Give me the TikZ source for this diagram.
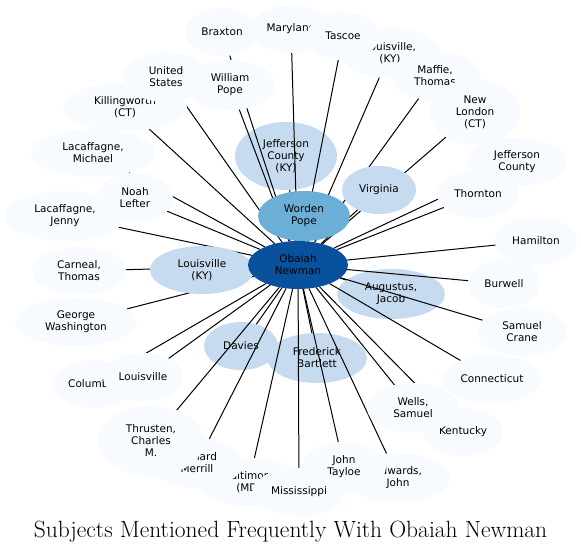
\documentclass[tikz,border=0pt]{standalone}
\usepackage{fontspec}
\newfontfamily\dv{DejaVu Sans}
\usetikzlibrary{shapes.geometric}
\definecolor{lightfill}{HTML}{F7FBFF}
\definecolor{midfill}{HTML}{C6DBEF}
\definecolor{wpfill}{HTML}{6BAED6}
\definecolor{obfill}{HTML}{08519C}
\pgfdeclarelayer{under}
\pgfdeclarelayer{edges}
\pgfsetlayers{under,edges,main}
\tikzset{
  nd/.style={ellipse, inner sep=0pt, outer sep=0pt, align=center, draw=none,
    font=\dv\fontsize{10.5}{12}\selectfont},
  rr/.style 2 args={minimum width={2*#1pt}, minimum height={2*#2pt}},
  lightnode/.style={nd, fill=lightfill},
  midnode/.style={nd, fill=midfill},
  wpnode/.style={nd, fill=wpfill},
  obnode/.style={nd, fill=obfill},
  edge/.style={draw=black, line width=1pt},
}
\begin{document}
\begin{tikzpicture}[x=1pt,y=-1pt]
\useasboundingbox (0,0) rectangle (581,553);
\begin{pgfonlayer}{under}
\node[midnode, rr={51}{34}] (jcky) at (286,156) {Jefferson\\County\\(KY)};
\node[midnode, rr={54}{25}] (augu) at (391,294) {Augustus,\\Jacob};
\node[midnode, rr={37}{24}] (davi) at (241,346) {Davies};
\node[midnode, rr={50}{25}] (fred) at (317,358) {Frederick\\Bartlett};
\end{pgfonlayer}
\node[lightnode, rr={36}{24}] (brax) at (222,32) {Braxton};
\node[lightnode, rr={40}{24}] (mary) at (291,29) {Maryland};
\node[lightnode, rr={50}{25}] (lky2) at (390,53) {Louisville,\\(KY)};
\node[lightnode, rr={36}{24}] (tasc) at (343,36) {Tascoe};
\node[lightnode, rr={45}{24}] (maff) at (435,76) {Maffie,\\Thomas};
\node[lightnode, rr={45}{33}] (nlon) at (475,112) {New\\London\\(CT)};
\node[lightnode, rr={50}{24}] (jefc) at (517,162) {Jefferson\\County};
\node[lightnode, rr={41}{24}] (thor) at (478,194) {Thornton};
\node[lightnode, rr={41}{24}] (hami) at (536,241) {Hamilton};
\node[lightnode, rr={36}{24}] (burw) at (504,284) {Burwell};
\node[lightnode, rr={45}{24}] (scra) at (522,332) {Samuel\\Crane};
\node[lightnode, rr={49}{24}] (conn) at (492,379) {Connecticut};
\node[lightnode, rr={40}{24}] (kent) at (463,432) {Kentucky};
\node[lightnode, rr={46}{25}] (well) at (413,408) {Wells,\\Samuel};
\node[lightnode, rr={52}{25}] (edwa) at (398,478) {Edwards,\\John};
\node[lightnode, rr={42}{25}] (tayl) at (344,467) {John\\Tayloe};
\node[lightnode, rr={50}{24}] (balt) at (249,482) {Baltimore\\(MD)};
\node[lightnode, rr={47}{24}] (miss) at (299,492) {Mississippi};
\node[lightnode, rr={46}{25}] (rich) at (197,463) {Richard\\Merrill};
\node[lightnode, rr={53}{35}] (thru) at (151,441) {Thrusten,\\Charles\\M.};
\node[lightnode, rr={41}{24}] (colu) at (93,384) {Columbia};
\node[lightnode, rr={40}{24}] (lou) at (143,377) {Louisville};
\node[lightnode, rr={61}{24}] (geow) at (76,322) {George\\Washington};
\node[lightnode, rr={47}{24}] (carn) at (79,271) {Carneal,\\Thomas};
\node[lightnode, rr={60}{25}] (jenn) at (65,216) {Lacaffagne,\\Jenny};
\node[lightnode, rr={38}{25}] (noah) at (135,198) {Noah\\Lefter};
\node[lightnode, rr={62}{24}] (mich) at (93,153) {Lacaffagne,\\Michael};
\node[lightnode, rr={62}{24}] (kill) at (125,107) {Killingworth\\(CT)};
\node[lightnode, rr={43}{25}] (unit) at (166,77) {United\\States};
\node[lightnode, rr={45}{25}] (wpop) at (230,85) {William\\Pope};
\node[midnode, rr={37}{24}] (virg) at (379,190) {Virginia};
\node[midnode, rr={52}{24}] (lkyc) at (202,270) {Louisville\\(KY)};
\node[wpnode, rr={46}{25}] (word) at (304,216) {Worden\\Pope};
\node[obnode, rr={50}{24}] (obai) at (298,265) {Obaiah\\Newman};
\begin{pgfonlayer}{edges}
\foreach \n in {jcky,augu,davi,fred,brax,mary,lky2,tasc,maff,nlon,jefc,thor,hami,burw,scra,conn,kent,well,edwa,tayl,balt,miss,rich,thru,colu,lou,geow,carn,jenn,noah,mich,kill,unit,wpop,virg,lkyc,word}
  \draw[edge] (obai) -- (\n);
\end{pgfonlayer}
\node[font=\fontsize{23.5}{28}\selectfont, anchor=base, inner sep=0pt] (title) at (290.5,537) {Subjects Mentioned Frequently With Obaiah Newman};
\end{tikzpicture}
\end{document}
